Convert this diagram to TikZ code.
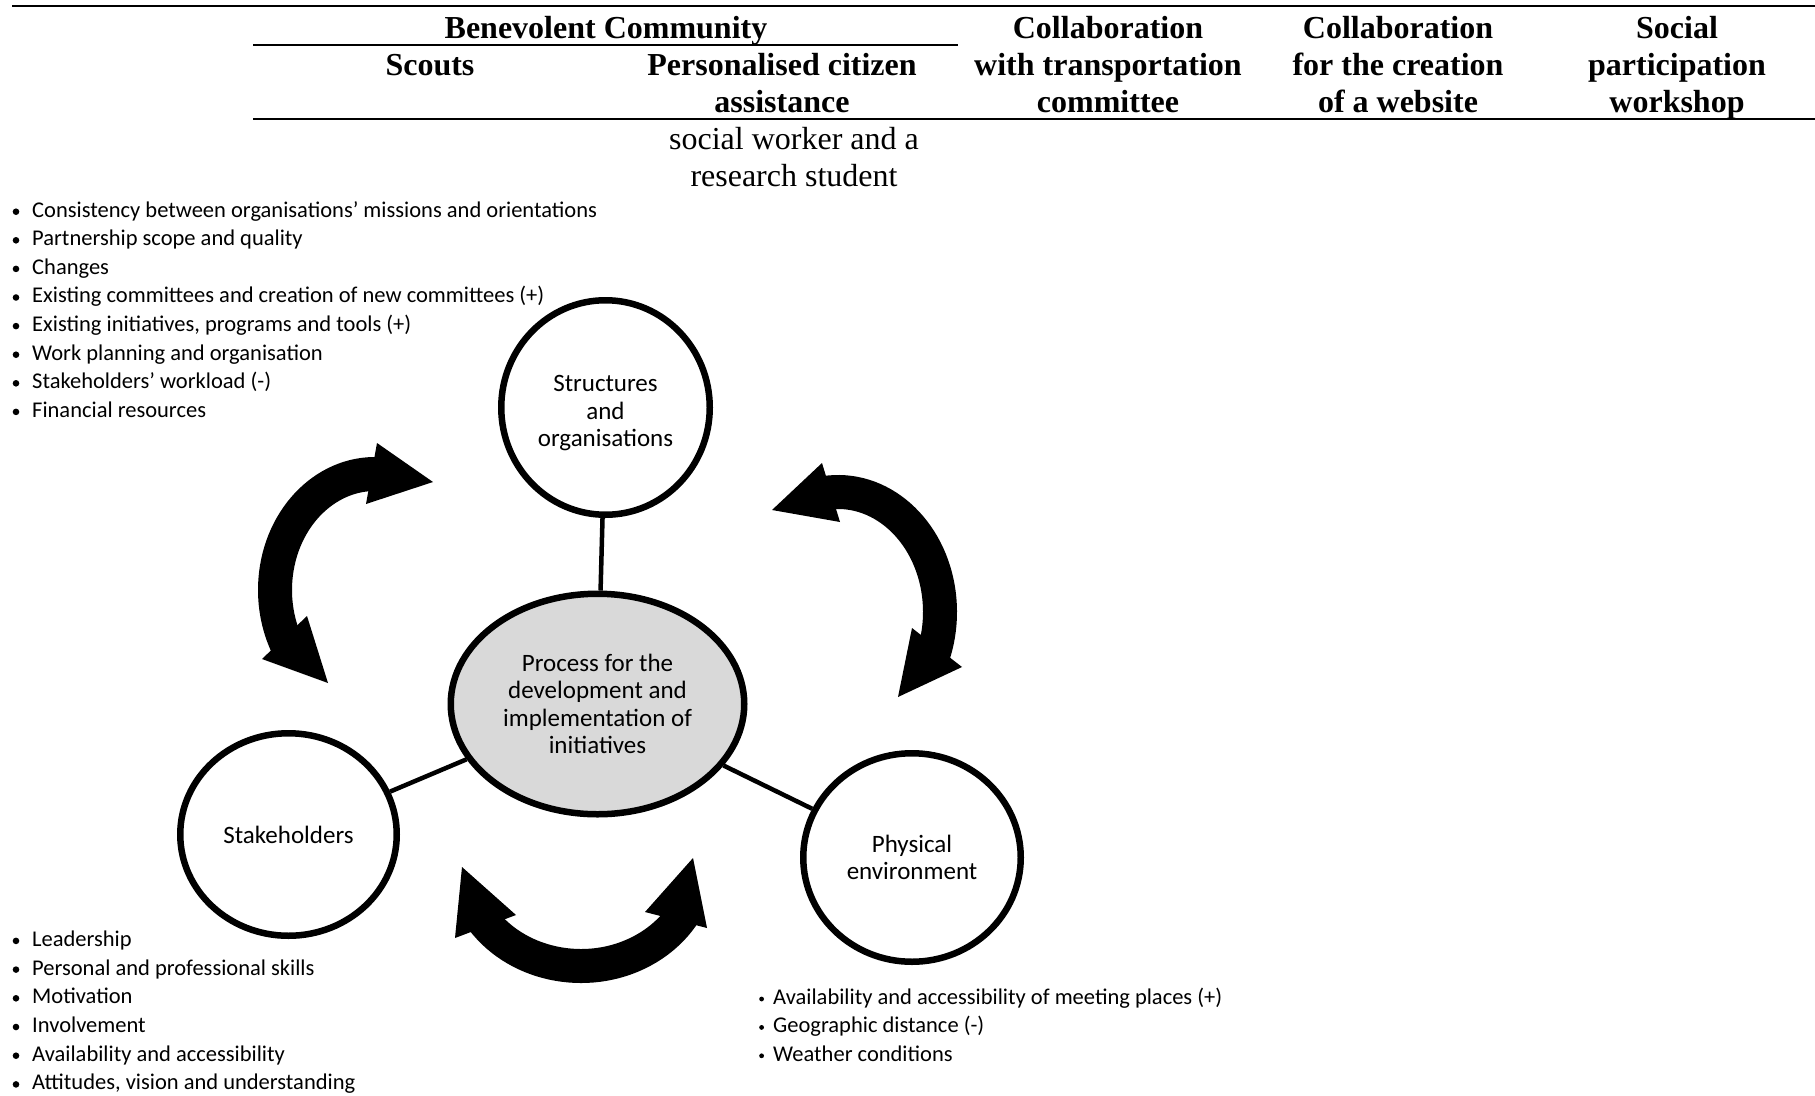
\documentclass[tikz,border=0pt]{standalone}
\usepackage{fontspec}
\setmainfont{Liberation Serif}
\newfontfamily\calfont{Carlito}
\usetikzlibrary{shapes.geometric}
\definecolor{procfill}{RGB}{217,217,217}
\begin{document}
\begin{tikzpicture}[x=1pt,y=1pt,
  hdr/.style={anchor=base, inner sep=0pt, font=\fontsize{32}{37}\selectfont\bfseries},
  sub/.style={anchor=base, inner sep=0pt, font=\fontsize{32}{37}\selectfont},
  rule/.style={line width=2.5pt},
  circ/.style={ellipse, draw, line width=6.5pt, inner sep=0pt, align=center,
    font=\calfont\fontsize{25}{27.5}\selectfont},
  ctext/.style={inner sep=0pt, align=center, font=\calfont\fontsize{25}{27.5}\selectfont},
  link/.style={line width=4.5pt},
  item/.style={anchor=base west, inner sep=0pt, font=\calfont\fontsize{22.5}{28.6}\selectfont},
  shaft/.style={line width=34pt},
]
\useasboundingbox (0,0) rectangle (1815,-1095);

% ---------- table header ----------
\draw[rule] (12,-6) -- (1815,-6);
\node[hdr] (bc) at (606,-38.5) {Benevolent Community};
\draw[rule] (253,-45) -- (958,-45);
\node[hdr] (sc) at (430,-75.5) {Scouts};
\node[hdr] (pa1) at (782,-75.5) {Personalised citizen};
\node[hdr] (pa2) at (782,-112.5) {assistance};
\node[hdr] (ct1) at (1108,-38.5) {Collaboration};
\node[hdr] (ct2) at (1108,-75.5) {with transportation};
\node[hdr] (ct3) at (1108,-112.5) {committee};
\node[hdr] (cw1) at (1398,-38.5) {Collaboration};
\node[hdr] (cw2) at (1398,-75.5) {for the creation};
\node[hdr] (cw3) at (1398,-112.5) {of a website};
\node[hdr] (sp1) at (1677,-38.5) {Social};
\node[hdr] (sp2) at (1677,-75.5) {participation};
\node[hdr] (sp3) at (1677,-112.5) {workshop};
\draw[rule] (253,-119) -- (1815,-119);
\node[sub] (sw1) at (794,-149.5) {social worker and a};
\node[sub] (sw2) at (794,-186.5) {research student};

% ---------- bullet lists ----------
\foreach \t [count=\i from 0] in {%
  Consistency between organisations’ missions and orientations,
  Partnership scope and quality,
  Changes,
  Existing committees and creation of new committees (+),
  {Existing initiatives, programs and tools (+)},
  Work planning and organisation,
  Stakeholders’ workload (-),
  Financial resources}{
  \node[item] (la\i) at (32,-217.1-28.6*\i) {\t};
  \fill (16,-211.7-28.6*\i) circle (3.3);
}
\foreach \t [count=\i from 0] in {%
  Leadership,
  Personal and professional skills,
  Motivation,
  Involvement,
  Availability and accessibility,
  {Attitudes, vision and understanding}}{
  \node[item] (lb\i) at (32,-946.3-28.7*\i) {\t};
  \fill (16,-940.9-28.7*\i) circle (3.3);
}
\foreach \t [count=\i from 0] in {%
  Availability and accessibility of meeting places (+),
  Geographic distance (-),
  Weather conditions}{
  \node[item] (lc\i) at (773,-1004.2-28.4*\i) {\t};
  \fill (761.6,-999-28.4*\i) circle (2.4);
}

% ---------- circles ----------
\node[circ, minimum width=208.5pt, minimum height=214.5pt] (str) at (605.5,-407.5) {};
\node[ctext] (strt) at ([yshift=-6pt]str.center) {Structures\\and\\organisations};
\node[circ, fill=procfill, minimum width=293.5pt, minimum height=220.5pt] (proc) at (597.5,-704)
  {Process for the\\development and\\implementation of\\initiatives};
\node[circ, minimum width=216.5pt, minimum height=202.5pt] (stk) at (288.5,-834.5)
  {Stakeholders};
\node[circ, minimum width=217.5pt, minimum height=208.5pt] (phy) at (912,-857.5)
  {Physical\\environment};

\draw[link] (str) -- (proc);
\draw[link] (stk) -- (proc);
\draw[link] (proc) -- (phy);

% ---------- curved double arrows ----------
% left
\draw[shaft] (375,-590) ++(85:100 and 116) arc[start angle=85, end angle=212, x radius=100, y radius=116];
\fill (433,-482) -- (377,-443) -- (366,-504) -- cycle;
\fill (328,-683) -- (262,-659) -- (307,-616) -- cycle;
% right
\draw[shaft] (838,-612) ++(98:102 and 120) arc[start angle=98, end angle=-22, x radius=102, y radius=120];
\fill (772,-510) -- (822,-463) -- (840,-522) -- cycle;
\fill (898,-697) -- (912,-628) -- (962,-667) -- cycle;
% bottom
\draw[shaft] (581,-860) ++(214:119 and 106) arc[start angle=214, end angle=330, x radius=119, y radius=106];
\fill (462,-867) -- (455,-938) -- (516,-915) -- cycle;
\fill (693,-858) -- (645,-912) -- (707,-928) -- cycle;
\end{tikzpicture}
\end{document}
